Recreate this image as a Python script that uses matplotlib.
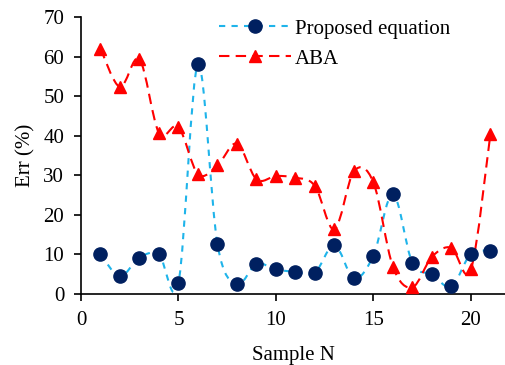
import numpy as np
import matplotlib
matplotlib.use("Agg")
import matplotlib.pyplot as plt
from matplotlib.path import Path
from matplotlib.patches import PathPatch
from matplotlib.lines import Line2D

samples = list(range(1, 22))
proposed = [10.0, 4.5, 9.2, 10.0, 2.8, 58.0, 12.6, 2.5, 7.6, 6.2, 5.6,
            5.4, 12.4, 4.0, 9.7, 25.3, 7.8, 5.0, 1.9, 10.2, 10.8]
aba = [62.0, 52.3, 59.3, 40.7, 42.2, 30.3, 32.5, 38.0, 29.0, 29.8, 29.4,
       27.3, 16.3, 31.0, 28.2, 6.9, 1.7, 9.4, 11.7, 6.2, 40.4]

plt.rcParams["font.family"] = ["Liberation Serif", "DejaVu Serif"]
plt.rcParams["font.size"] = 15


def smooth_path(x, y):
    # excel style smoothed line: cubic bezier through the points
    x = np.asarray(x, float)
    y = np.asarray(y, float)
    verts = [(x[0], y[0])]
    codes = [Path.MOVETO]
    n = len(x)
    for i in range(n - 1):
        x0, y0 = (x[i - 1], y[i - 1]) if i > 0 else (x[i], y[i])
        x3, y3 = (x[i + 2], y[i + 2]) if i + 2 < n else (x[i + 1], y[i + 1])
        c1 = (x[i] + (x[i + 1] - x0) / 6, y[i] + (y[i + 1] - y0) / 6)
        c2 = (x[i + 1] - (x3 - x[i]) / 6, y[i + 1] - (y3 - y[i]) / 6)
        verts += [c1, c2, (x[i + 1], y[i + 1])]
        codes += [Path.CURVE4] * 3
    return Path(verts, codes)


fig = plt.figure(figsize=(5.06, 3.65), dpi=100)
ax = fig.add_axes([0.160, 0.1945, 0.840, 0.759])

blue_line = "#1fb4ea"
navy = "#002060"
red = "#ff0000"

ax.add_patch(PathPatch(smooth_path(samples, proposed), fill=False,
                       edgecolor=blue_line, lw=1.5, linestyle=(0, (3, 3)), zorder=2))
ax.add_patch(PathPatch(smooth_path(samples, aba), fill=False,
                       edgecolor=red, lw=1.5, linestyle=(0, (5, 3)), zorder=2))
ax.plot(samples, proposed, ls="none", marker="o", ms=9.5, color=navy, zorder=4)
ax.plot(samples, aba, ls="none", marker="^", ms=9, color=red, zorder=3)

handles = [
    Line2D([], [], color=blue_line, lw=1.5, ls=(0, (3, 3)), marker="o", ms=9.5,
           markerfacecolor=navy, markeredgecolor=navy),
    Line2D([], [], color=red, lw=1.5, ls=(0, (5, 3)), marker="^", ms=9,
           markerfacecolor=red, markeredgecolor=red),
]
ax.legend(handles, ["Proposed equation", "ABA"], loc="upper left",
          bbox_to_anchor=(0.28, 1.06), frameon=False, handlelength=3.45,
          handletextpad=0.2, labelspacing=0.5, fontsize=15)

ax.set_xlim(0, 21.8)
ax.set_ylim(0, 70)
ax.set_xticks([0, 5, 10, 15, 20])
ax.set_yticks(range(0, 71, 10))
ax.set_xlabel("Sample N", labelpad=12)
ax.set_ylabel("Err (%)", labelpad=6)
ax.spines["top"].set_visible(False)
ax.spines["right"].set_visible(False)
ax.tick_params(direction="out", length=5, width=1.2, pad=7, labelsize=15)
for s in ["left", "bottom"]:
    ax.spines[s].set_linewidth(1.2)

fig.savefig("out.png", dpi=100)
